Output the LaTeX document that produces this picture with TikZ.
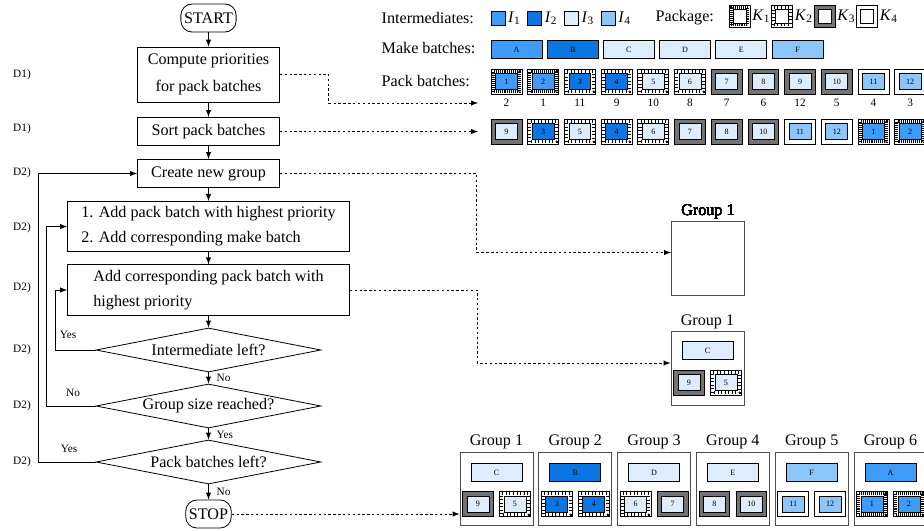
\documentclass[tikz,border=0pt]{standalone}
\usepackage{fontspec}
\setmainfont{Liberation Serif}
\usepackage{tikz}
\usetikzlibrary{arrows}
\usetikzlibrary{shapes.geometric}
\definecolor{Ione}{HTML}{3C9CF7}
\definecolor{Itwo}{HTML}{0A76E4}
\definecolor{Ithree}{HTML}{DDEDFD}
\definecolor{Ifour}{HTML}{8DC6FB}
\tikzstyle{term}=[draw, line width=.5pt, rounded corners=7pt, minimum height=17.4pt,
                  inner xsep=2pt, font=\fontsize{10}{12}\selectfont]
\tikzstyle{proc}=[draw, line width=.5pt, minimum width=88pt, minimum height=17.4pt,
                  align=center, font=\fontsize{10}{17}\selectfont]
\tikzstyle{wide}=[draw, line width=.5pt, minimum width=174.8pt, minimum height=30.4pt,
                  inner xsep=3pt, align=left, font=\fontsize{10}{15.5}\selectfont]
\tikzstyle{dec}=[draw, line width=.5pt, diamond, aspect=5, inner sep=0pt,
                 minimum width=139.5pt, minimum height=27.3pt, font=\fontsize{10}{12}\selectfont]
\tikzstyle{flow}=[-latex, line width=.5pt]
\tikzstyle{link}=[-latex, line width=.5pt, dash pattern=on 1.5pt off 1.5pt]
\tikzstyle{small}=[font=\fontsize{7}{8}\selectfont]
\tikzstyle{txt}=[font=\fontsize{10}{12}\selectfont]
\tikzstyle{sq}=[draw, line width=.5pt, minimum size=8.7pt, inner sep=0pt]
\tikzstyle{mb}=[draw, line width=.5pt, minimum width=31.6pt, minimum height=10.8pt,
                inner sep=0pt, font=\fontsize{5}{6}\selectfont]
% pack batch: outer frame and inner box
\tikzstyle{pbout}=[draw, line width=.5pt, minimum width=19.2pt, minimum height=15.5pt,
                   inner sep=0pt]
\tikzstyle{pbin}=[draw, line width=.5pt, minimum width=13.6pt, minimum height=9.9pt,
                  inner sep=0pt, font=\fontsize{5}{6}\selectfont]
\tikzstyle{kout}=[draw, line width=.5pt, minimum width=13pt, minimum height=13.6pt,
                  inner sep=0pt]
\tikzstyle{kin}=[draw, line width=.5pt, fill=white, minimum width=8pt,
                 minimum height=8.6pt, inner sep=0pt]
\tikzstyle{kone}=[fill=white, path picture={\draw[line width=1.9pt, dash pattern=on .6pt off .6pt]
    ([shift={(1.35pt,1.35pt)}]path picture bounding box.south west) rectangle
    ([shift={(-1.35pt,-1.35pt)}]path picture bounding box.north east);}]
\tikzstyle{ktwo}=[fill=white, path picture={\draw[line width=1.9pt, dash pattern=on .6pt off 1.6pt]
    ([shift={(1.35pt,1.35pt)}]path picture bounding box.south west) rectangle
    ([shift={(-1.35pt,-1.35pt)}]path picture bounding box.north east);}]
\tikzstyle{kthree}=[fill=black!55]
\tikzstyle{kfour}=[fill=white]
\tikzstyle{gbox}=[draw=black!70, line width=.5pt, minimum width=45.3pt,
                  minimum height=45.5pt, inner sep=0pt]
\newcommand{\packbatch}[5]{%
  \node[pbout, #4] (#1) at (#2) {};
  \node[pbin, fill=#3] (#1l) at (#1.center) {#5};
}

\begin{document}
\begin{tikzpicture}[x=0.62pt, y=-0.62pt]
    \useasboundingbox (0,0) rectangle (924,531);
    % flow chart
    \node[term] (start) at (208.5,18) {START};
    \node[proc, minimum height=34.1pt] (prio) at (208.5,74.5) {Compute priorities\\for pack batches};
    \node[proc] (sort) at (208.5,131.5) {Sort pack batches};
    \node[proc] (new) at (208.5,173.5) {Create new group};
    \node[wide] (addp) at (208.5,226.5) {1. Add pack batch with highest priority\\2. Add corresponding make batch};
    \node[wide] (addc) at (208.5,290) {Add corresponding pack batch with\\highest priority};
    \node[dec] (left) at (208.5,350) {Intermediate left?};
    \node[dec] (size) at (208.5,406) {Group size reached?};
    \node[dec] (more) at (208.5,462) {Pack batches left?};
    \node[term] (stop) at (208.5,514) {STOP};
    \foreach \from/\to in {start/prio, prio/sort, sort/new, new/addp, addp/addc,
          addc/left, left/size, size/more, more/stop}
      \draw[flow] (\from) -- (\to);
    \draw[flow] (left.west) -- ++(-40,0) |- (addc.west);
    \draw[flow] (size.west) -- ++(-49,0) |- (addp.west);
    \draw[flow] (more.west) -- ++(-57,0) |- (new.west);
    \node[small] (y1) at (68,335) {Yes};
    \node[small] (n2) at (73,393) {No};
    \node[small] (y3) at (69,449) {Yes};
    \node[small, anchor=west] (n1) at (211,378) {No};
    \node[small, anchor=west] (y2) at (211,435) {Yes};
    \node[small, anchor=west] (n3) at (211,492) {No};
    \foreach \s/\y [count=\i] in {D1/75, D1/129, D2/173, D2/228, D2/288, D2/350, D2/406, D2/462}
      \node[small] (d\i) at (22,\y) {\s)};
    % legend
    \node[txt, anchor=west] (int) at (376,18) {Intermediates:};
    \foreach \c [count=\i] in {Ione, Itwo, Ithree, Ifour} {
      \node[sq, fill=\c] (i\i) at ({498+36.7*(\i-1)},18.5) {};
      \node[txt, anchor=west, inner sep=1.5pt] (li\i) at (i\i.east) {\textit{I}\textsubscript{\i}};
    }
    \node[txt, anchor=west] (pkg) at (650,18) {Package:};
    \foreach \k [count=\i] in {kone, ktwo, kthree, kfour} {
      \node[kout, \k] (k\i) at ({739.5+42.5*(\i-1)},16) {};
      \node[kin] (k\i l) at (k\i.center) {};
      \node[txt, anchor=west, inner sep=1pt] (lk\i) at (k\i.east) {\textit{K}\textsubscript{\i}};
    }
    \node[txt, anchor=west] (make) at (376,48.5) {Make batches:};
    \foreach \n/\c [count=\i] in {A/Ione, B/Itwo, C/Ithree, D/Ithree, E/Ithree, F/Ifour}
      \node[mb, fill=\c] (m\n) at ({516.5+56.2*(\i-1)},49.5) {\n};
    \node[txt, anchor=west] (pack) at (376,81) {Pack batches:};
    \foreach \n/\c/\k/\p in {1/Ione/kone/2, 2/Ione/kone/1, 3/Itwo/ktwo/11, 4/Itwo/ktwo/9,
          5/Ithree/ktwo/10, 6/Ithree/ktwo/8, 7/Ithree/kthree/7, 8/Ithree/kthree/6,
          9/Ithree/kthree/12, 10/Ithree/kthree/5, 11/Ifour/kfour/4, 12/Ifour/kfour/3} {
      \packbatch{p\n}{{506.5+36.7*(\n-1)},81.5}{\c}{\k}{\n}
      \node[small] (r\n) at ({506.5+36.7*(\n-1)},103) {\p};
    }
    \foreach \n/\c/\k [count=\i] in {9/Ithree/kthree, 3/Itwo/ktwo, 5/Ithree/ktwo, 4/Itwo/ktwo,
          6/Ithree/ktwo, 7/Ithree/kthree, 8/Ithree/kthree, 10/Ithree/kthree,
          11/Ifour/kfour, 12/Ifour/kfour, 1/Ione/kone, 2/Ione/kone}
      \packbatch{s\n}{{506.5+36.7*(\i-1)},131.5}{\c}{\k}{\n}
    % groups
    \node[gbox, label={[txt, inner sep=1.5pt]above:Group 1}] (g0) at (708,258.5) {};
    \node[gbox, label={[txt, inner sep=1.5pt]above:Group 1}] (g1) at (707.5,368.5) {};
    \node[mb, fill=Ithree] (g1m) at (707.5,350.5) {C};
    \packbatch{g1a}{689,382.5}{Ithree}{kthree}{9}
    \packbatch{g1b}{726,382.5}{Ithree}{ktwo}{5}
    \foreach \i/\m/\mc/\na/\ca/\ka/\nb/\cb/\kb in {1/C/Ithree/9/Ithree/kthree/5/Ithree/ktwo,
          2/B/Itwo/3/Itwo/ktwo/4/Itwo/ktwo, 3/D/Ithree/6/Ithree/ktwo/7/Ithree/kthree,
          4/E/Ithree/8/Ithree/kthree/10/Ithree/kthree, 5/F/Ifour/11/Ifour/kfour/12/Ifour/kfour,
          6/A/Ione/1/Ione/kone/2/Ione/kone} {
      \node[gbox, label={[txt, inner sep=1.5pt]above:Group \i}] (gb\i) at ({496.5+78.8*(\i-1)},489) {};
      \node[mb, fill=\mc] (gm\i) at ({496.5+78.8*(\i-1)},472.5) {\m};
      \packbatch{ga\i}{{478+78.8*(\i-1)},504}{\ca}{\ka}{\na}
      \packbatch{gc\i}{{515+78.8*(\i-1)},504}{\cb}{\kb}{\nb}
    }
    % links to the right
    \coordinate (prioend) at (478,103);
    \coordinate (sortend) at (478,131.5);
    \draw[link] (prio.east) -- ++(49,0) |- (prioend);
    \draw[link] (sort.east) -- (sortend);
    \draw[link] (new.east) -- ++(197,0) |- ([yshift=3.7pt]g0.west);
    \draw[link] (addc.east) -- ++(127.5,0) |- ([yshift=3.4pt]g1.west);
    \draw[link] (stop.east) -- (stop.east -| gb1.west);
\end{tikzpicture}
\end{document}
